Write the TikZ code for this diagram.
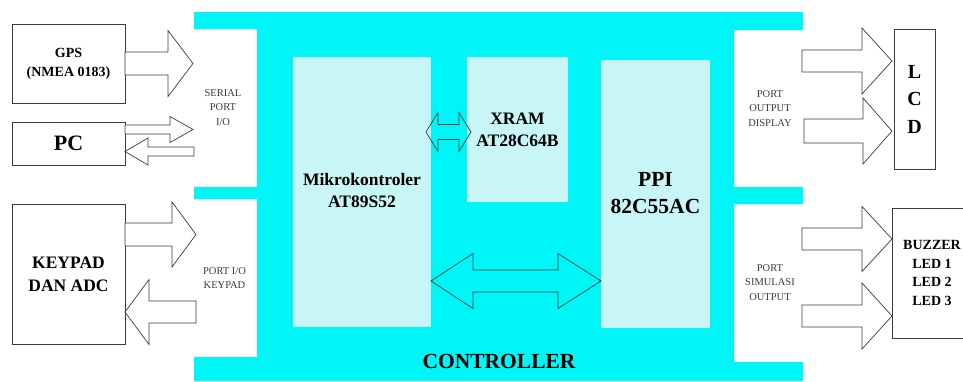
\documentclass[tikz,border=0pt]{standalone}
\usepackage{fontspec}
\setmainfont{Liberation Serif}
\definecolor{ctrlcyan}{RGB}{0,246,246}
\definecolor{chipfill}{RGB}{200,246,246}
\definecolor{linegray}{RGB}{60,60,60}
\definecolor{labelgray}{RGB}{60,60,60}
\definecolor{busline}{RGB}{25,60,60}
\newcommand{\rblock}[6]{% start x, head base x, tip x, center y, shaft half, head half
  \draw[blockarrow] (#1,#4-#5) -- (#2,#4-#5) -- (#2,#4-#6) -- (#3,#4) -- (#2,#4+#6) -- (#2,#4+#5) -- (#1,#4+#5) -- cycle;}
\newcommand{\dblock}[7]{% left tip, left base, right base, right tip, center y, shaft half, head half
  \draw[busarrow] (#1,#5) -- (#2,#5-#7) -- (#2,#5-#6) -- (#3,#5-#6) -- (#3,#5-#7) -- (#4,#5) -- (#3,#5+#7) -- (#3,#5+#6) -- (#2,#5+#6) -- (#2,#5+#7) -- cycle;}
\begin{document}
\begin{tikzpicture}[x=1pt,y=-1pt,
  extbox/.style={draw=linegray, line width=0.7pt, fill=white, inner sep=0pt, align=center, font=\bfseries},
  chip/.style={fill=chipfill, draw=none, inner sep=0pt},
  chiptext/.style={align=center, font=\bfseries\fontsize{17.5}{22}\selectfont, text=black},
  portlabel/.style={align=center, text=labelgray, inner sep=0pt, font=\fontsize{10.5}{14.5}\selectfont},
  blockarrow/.style={draw=linegray, line width=0.7pt, fill=white, line join=miter},
  busarrow/.style={draw=busline, line width=0.7pt, line join=miter}]
\useasboundingbox (0,0) rectangle (963,381);
\clip (0,0) rectangle (963,381);
\fill[white] (0,0) rectangle (963,381);
% controller body
\fill[ctrlcyan] (194,12) -- (803,12) -- (803,30) -- (734,30) -- (734,187) -- (803,187) -- (803,204) -- (734,204) -- (734,362) -- (803,362) -- (803,381) -- (194,381) -- (194,357) -- (257,357) -- (257,199) -- (194,199) -- (194,187) -- (257,187) -- (257,29) -- (194,29) -- cycle;
% chips
\fill[chip] (293,57) rectangle (431,327);
\fill[chip] (467,57) rectangle (568,202);
\fill[chip] (601,60) rectangle (710,328);
\node[chiptext] (mcu) at (362,191) {Mikrokontroler\\AT89S52};
\node[chiptext] (xram) at (517.5,129.5) {XRAM\\AT28C64B};
\node[chiptext, font=\bfseries\fontsize{21.5}{27}\selectfont] (ppi) at (655.5,193.5) {PPI\\82C55AC};
\node[font=\bfseries\fontsize{21.5}{26}\selectfont] (ctrl) at (499,361.5) {CONTROLLER};
% buses
\dblock{426}{438}{459}{471}{132}{7.5}{19.5}
\dblock{431}{473}{558}{601}{281}{11}{27.5}
% external boxes
\node[extbox, minimum width=113pt, minimum height=79pt, font=\bfseries\fontsize{14}{19}\selectfont] (gps) at (68.5,63.5) {GPS\\(NMEA 0183)};
\node[extbox, minimum width=113pt, minimum height=43pt, font=\bfseries\fontsize{22}{26}\selectfont] (pc) at (68.5,143.5) {PC};
\node[extbox, minimum width=113pt, minimum height=140pt, font=\bfseries\fontsize{17.5}{23}\selectfont] (keypad) at (68.5,274) {KEYPAD\\DAN ADC};
\node[extbox, minimum width=41pt, minimum height=140pt, font=\bfseries\fontsize{20}{27.5}\selectfont] (lcd) at (914.5,99) {L\\C\\D};
\draw[draw=linegray, line width=0.7pt, fill=white] (892,208) rectangle (985,338);
\node[align=center, font=\bfseries\fontsize{14}{18.7}\selectfont] (buzzer) at (932,273) {BUZZER\\LED 1\\LED 2\\LED 3};
% block arrows
\rblock{125}{168}{193}{63.5}{11.5}{33}
\rblock{125}{170}{193}{129.5}{4.5}{13}
\rblock{194}{148}{125}{151.5}{4.5}{13.5}
\rblock{125}{172}{196}{234.5}{11.5}{32.5}
\rblock{196}{149}{125}{312}{11}{32.5}
\rblock{802}{862}{892}{61}{11}{33}
\rblock{804}{863}{892}{131}{12}{33}
\rblock{802}{862}{892}{239}{11}{32.5}
\rblock{802}{862}{892}{316}{11}{33}
% port labels
\node[portlabel] (serial) at (223,107.5) {SERIAL\\PORT\\I/O};
\node[portlabel] (kport) at (224.5,278) {PORT I/O\\KEYPAD};
\node[portlabel] (dport) at (770,108.5) {PORT\\OUTPUT\\DISPLAY};
\node[portlabel] (sport) at (770,282.5) {PORT\\SIMULASI\\OUTPUT};
\end{tikzpicture}
\end{document}
